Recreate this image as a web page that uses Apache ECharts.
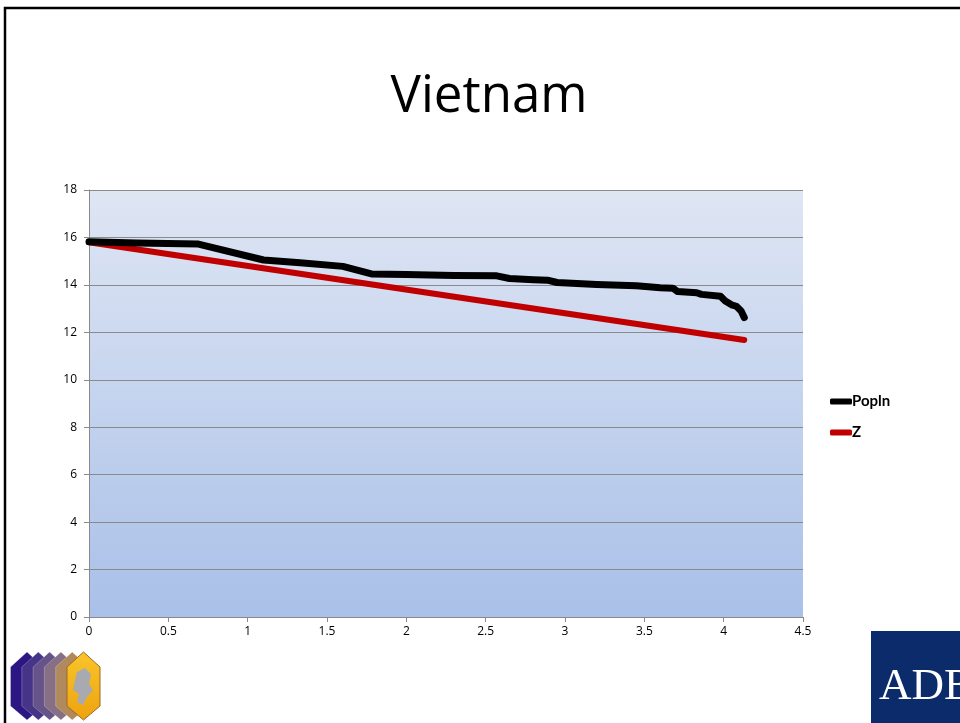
<!DOCTYPE html>
<html>
<head>
<meta charset="utf-8">
<script src="https://cdn.jsdelivr.net/npm/echarts@6/dist/echarts.min.js"></script>
<style>
  html, body { margin: 0; padding: 0; background: #ffffff; }
  #chart { width: 960px; height: 723px; }
</style>
</head>
<body>
<div id="chart"></div>
<script>
// Population (log scale) against log rank, plus the fitted Zipf line
const seriesNames = ['Popln', 'Z'];
const poplnPoints = [
  [0, 15.82], [0.3, 15.77], [0.69, 15.72], [1.1, 15.05], [1.33, 14.93],
  [1.6, 14.78], [1.78, 14.46], [2.0, 14.44], [2.3, 14.40], [2.57, 14.38],
  [2.65, 14.27], [2.8, 14.22], [2.89, 14.20], [2.95, 14.10], [3.2, 14.02],
  [3.45, 13.96], [3.6, 13.88], [3.68, 13.86], [3.71, 13.72], [3.83, 13.67],
  [3.86, 13.60], [3.98, 13.52], [4.01, 13.32], [4.05, 13.16], [4.08, 13.10],
  [4.11, 12.90], [4.13, 12.62]
];
const zPoints = [[0, 15.80], [4.13, 11.68]];
const xTicks = [0, 4.5, 0.5];   // min, max, step
const yTicks = [0, 18, 2];

const chart = echarts.init(document.getElementById('chart'), null, { renderer: 'canvas' });

// six overlapping hexagons for the left-hand emblem
const hexColors = ['#2b1683', '#463488', '#65538a', '#877083', '#b08a5c', '#f5b516'];
const hexShapes = hexColors.map((c, i) => {
  const cx = 27 + i * 11.3, hw = 16.5, top = 652, bot = 720;
  const pts = [[cx - hw, top + 15], [cx, top], [cx + hw, top + 15],
               [cx + hw, bot - 14], [cx, bot], [cx - hw, bot - 14]];
  const last = i === hexColors.length - 1;
  return {
    type: 'polygon', shape: { points: pts },
    style: {
      fill: last ? new echarts.graphic.LinearGradient(0, 0, 0, 1, [
        { offset: 0, color: '#f9c52a' }, { offset: 1, color: '#eea20e' }]) : c,
      stroke: last ? '#9a6a28' : 'rgba(255,255,255,0.25)', lineWidth: 1
    },
    z: 10 + i
  };
});

chart.setOption({
  animation: false,
  title: {
    text: 'Vietnam', left: 484, top: 67, textAlign: 'center',
    textStyle: { fontFamily: 'Open Sans', fontSize: 51, fontWeight: 'normal', color: '#000' }
  },
  legend: {
    orient: 'vertical', left: 825, top: 389, itemGap: 16,
    itemWidth: 22, itemHeight: 6, icon: 'roundRect',
    data: seriesNames,
    textStyle: { fontFamily: 'Lato', fontWeight: 'bold', fontSize: 15, color: '#000', padding: [0, 0, 0, -5] }
  },
  grid: {
    left: 89, top: 190, width: 714, height: 427, show: true,
    borderWidth: 0,
    backgroundColor: new echarts.graphic.LinearGradient(0, 0, 0, 1, [
      { offset: 0, color: '#dfe6f4' }, { offset: 1, color: '#a9c0e8' }])
  },
  xAxis: {
    type: 'value', min: xTicks[0], max: xTicks[1], interval: xTicks[2],
    axisLine: { show: true, lineStyle: { color: '#8a8a8a', width: 1 } },
    axisTick: { show: true, length: 5, lineStyle: { color: '#8a8a8a' } },
    splitLine: { show: false },
    axisLabel: { color: '#000', fontFamily: 'Open Sans', fontSize: 12, margin: 9 }
  },
  yAxis: {
    type: 'value', min: yTicks[0], max: yTicks[1], interval: yTicks[2],
    axisLine: { show: true, lineStyle: { color: '#8a8a8a', width: 1 } },
    axisTick: { show: true, length: 5, lineStyle: { color: '#8a8a8a' } },
    splitLine: { show: true, lineStyle: { color: '#8a8a8a', width: 1 } },
    axisLabel: { color: '#000', fontFamily: 'Open Sans', fontSize: 12, margin: 12 }
  },
  series: [
    {
      name: seriesNames[0], type: 'line', data: poplnPoints, showSymbol: false,
      color: '#000000', z: 3,
      lineStyle: { width: 7, color: '#000000', cap: 'round', join: 'round' }
    },
    {
      name: seriesNames[1], type: 'line', data: zPoints, showSymbol: false,
      color: '#c00000', z: 2,
      lineStyle: { width: 6, color: '#c00000', cap: 'round', join: 'round' }
    }
  ],
  graphic: [
    // slide frame
    { type: 'polyline', shape: { points: [[5, 723], [5, 8], [960, 8]] },
      style: { stroke: '#000', lineWidth: 2.5, fill: null }, z: 1 },
    ...hexShapes,
    // grey map silhouette on the gold hexagon
    { type: 'polygon', shape: { points: [[77, 672], [85, 668], [91, 674], [89, 684], [93, 690],
        [87, 697], [83, 705], [77, 702], [79, 694], [73, 690], [75, 680]] },
      style: { fill: '#a9a9b0' }, z: 20 },
    // ADB logo block
    { type: 'rect', shape: { x: 871, y: 631, width: 95, height: 95 },
      style: { fill: '#0c2b6b' }, z: 10 },
    { type: 'text', left: 879, top: 665, z: 11,
      style: { text: 'ADB', fill: '#ffffff', font: '45px "Liberation Serif"' } }
  ]
});
</script>
</body>
</html>
